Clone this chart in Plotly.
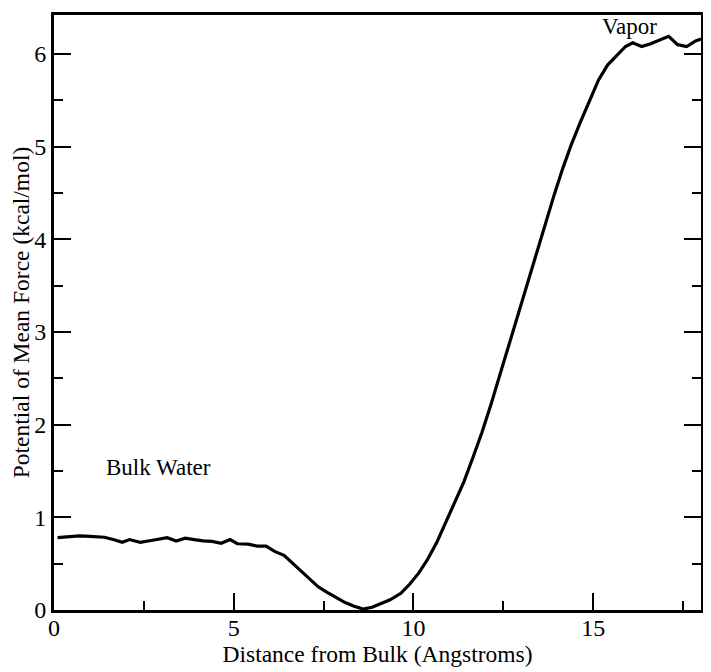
import plotly.graph_objects as go

distance = [0.1, 0.4, 0.7, 1.0, 1.4, 1.65, 1.9, 2.1, 2.4, 2.7, 3.0, 3.15, 3.4, 3.65, 3.9,
            4.15, 4.4, 4.65, 4.9, 5.1, 5.4, 5.65, 5.9, 6.15, 6.4, 6.6, 6.85, 7.1, 7.35, 7.6,
            7.85, 8.1, 8.35, 8.6, 8.85, 9.1, 9.35, 9.65, 9.9, 10.15, 10.4, 10.65, 10.9, 11.15,
            11.4, 11.65, 11.9, 12.15, 12.4, 12.65, 12.9, 13.15, 13.4, 13.65, 13.9, 14.15, 14.4,
            14.65, 14.9, 15.15, 15.4, 15.65, 15.9, 16.1, 16.35, 16.6, 16.85, 17.1, 17.35, 17.6,
            17.85, 18.0]
pmf = [0.78, 0.79, 0.80, 0.795, 0.785, 0.76, 0.73, 0.76, 0.73, 0.75, 0.77, 0.78, 0.745, 0.775, 0.76,
       0.745, 0.74, 0.72, 0.76, 0.715, 0.71, 0.69, 0.69, 0.63, 0.59, 0.52, 0.43, 0.34, 0.25, 0.19,
       0.13, 0.08, 0.04, 0.01, 0.03, 0.07, 0.11, 0.18, 0.28, 0.40, 0.55, 0.73, 0.94, 1.15,
       1.38, 1.64, 1.91, 2.21, 2.53, 2.86, 3.18, 3.50, 3.83, 4.15, 4.46, 4.76, 5.03,
       5.27, 5.50, 5.72, 5.88, 5.98, 6.08, 6.12, 6.08, 6.11, 6.15, 6.19, 6.10, 6.08,
       6.14, 6.16]

x_ticks = [0, 5, 10, 15]
y_ticks = [0, 1, 2, 3, 4, 5, 6]
labels = [("Bulk Water", 2.9, 1.54), ("Vapor", 16.0, 6.30)]

font = "Liberation Serif"

fig = go.Figure()
fig.add_trace(go.Scatter(x=distance, y=pmf, mode="lines",
                         line=dict(color="black", width=3.2), showlegend=False))

for text, lx, ly in labels:
    fig.add_annotation(x=lx, y=ly, text=text, showarrow=False,
                       font=dict(family=font, size=23, color="black"))

# page body has an 8px default margin, so the figure is sized/offset to compensate
fig.update_layout(
    width=703, height=664,
    margin=dict(l=46, r=10, t=7, b=62),
    paper_bgcolor="white", plot_bgcolor="white",
    font=dict(family=font, size=23, color="black"),
)
fig.update_xaxes(
    range=[0, 18], tickvals=x_ticks, showgrid=False, zeroline=False, automargin=False,
    showline=True, linecolor="black", linewidth=3, mirror=True,
    ticks="inside", ticklen=17, tickwidth=2, tickcolor="black",
    minor=dict(dtick=2.5, tick0=0, ticks="inside", ticklen=9, tickwidth=2, tickcolor="black", showgrid=False),
    tickfont=dict(family=font, size=24),
    ticklabelstandoff=-6,
    title=dict(text="Distance from Bulk (Angstroms)", font=dict(family=font, size=23.5), standoff=3),
)
fig.update_yaxes(
    range=[0, 6.42], tickvals=y_ticks, showgrid=False, zeroline=False, automargin=False,
    showline=True, linecolor="black", linewidth=3, mirror="ticks",
    ticks="inside", ticklen=17, tickwidth=2, tickcolor="black",
    minor=dict(dtick=0.5, tick0=0, ticks="inside", ticklen=9, tickwidth=2, tickcolor="black", showgrid=False),
    tickfont=dict(family=font, size=24),
    ticklabelstandoff=0,
    title=dict(text="Potential of Mean Force (kcal/mol)", font=dict(family=font, size=23.5), standoff=11),
)

fig.write_html("out.html")
